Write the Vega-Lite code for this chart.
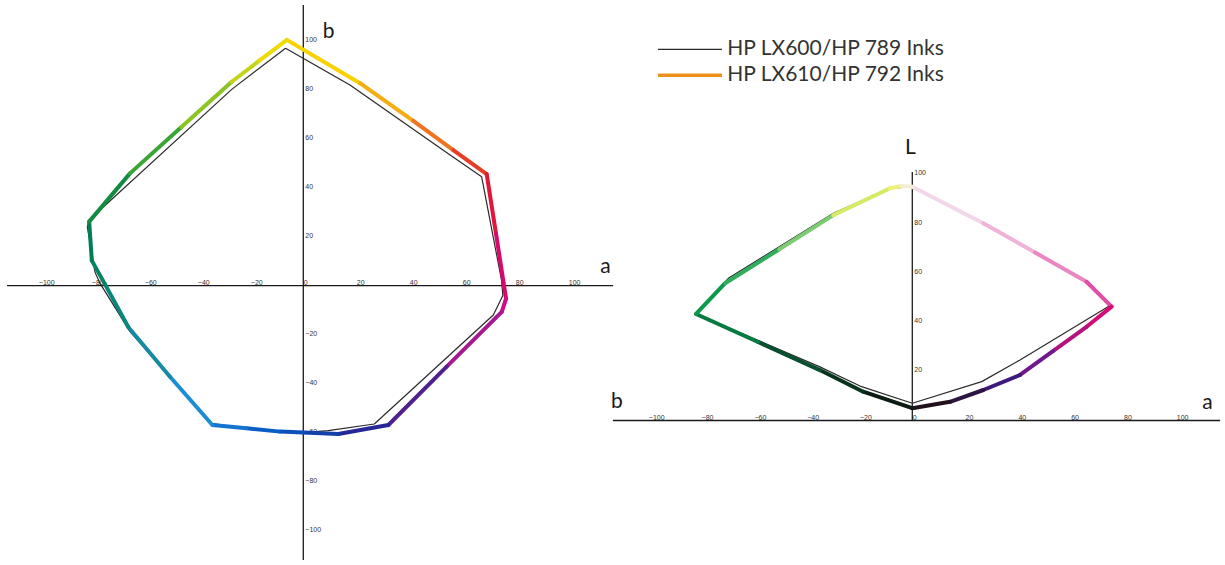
{
  "$schema": "https://vega.github.io/schema/vega-lite/v6.json",
  "width": 1225,
  "height": 565,
  "autosize": {"type": "fit", "contains": "padding"},
  "padding": 0,
  "background": "white",
  "config": {"view": {"stroke": null}},
  "datasets": {
    "ab": [
      {"series": "HP LX610/HP 792 Inks", "i": 0, "a": -6.2, "b": 100.3},
      {"series": "HP LX610/HP 792 Inks", "i": 1, "a": 21.4, "b": 82.6},
      {"series": "HP LX610/HP 792 Inks", "i": 2, "a": 41.5, "b": 67.2},
      {"series": "HP LX610/HP 792 Inks", "i": 3, "a": 56.6, "b": 55.3},
      {"series": "HP LX610/HP 792 Inks", "i": 4, "a": 69.2, "b": 45.5},
      {"series": "HP LX610/HP 792 Inks", "i": 5, "a": 72.7, "b": 21.3},
      {"series": "HP LX610/HP 792 Inks", "i": 6, "a": 76.5, "b": -5.3},
      {"series": "HP LX610/HP 792 Inks", "i": 7, "a": 74.9, "b": -10.7},
      {"series": "HP LX610/HP 792 Inks", "i": 8, "a": 54.1, "b": -33.1},
      {"series": "HP LX610/HP 792 Inks", "i": 9, "a": 32.1, "b": -56.9},
      {"series": "HP LX610/HP 792 Inks", "i": 10, "a": 13.2, "b": -60.6},
      {"series": "HP LX610/HP 792 Inks", "i": 11, "a": 0, "b": -60},
      {"series": "HP LX610/HP 792 Inks", "i": 12, "a": -8.8, "b": -59.6},
      {"series": "HP LX610/HP 792 Inks", "i": 13, "a": -21.4, "b": -58.2},
      {"series": "HP LX610/HP 792 Inks", "i": 14, "a": -34.3, "b": -56.9},
      {"series": "HP LX610/HP 792 Inks", "i": 15, "a": -50.3, "b": -37.2},
      {"series": "HP LX610/HP 792 Inks", "i": 16, "a": -66, "b": -17},
      {"series": "HP LX610/HP 792 Inks", "i": 17, "a": -74.8, "b": 0.5},
      {"series": "HP LX610/HP 792 Inks", "i": 18, "a": -79.8, "b": 10.2},
      {"series": "HP LX610/HP 792 Inks", "i": 19, "a": -80.8, "b": 26.1},
      {"series": "HP LX610/HP 792 Inks", "i": 20, "a": -65.4, "b": 45.8},
      {"series": "HP LX610/HP 792 Inks", "i": 21, "a": -46, "b": 64.7},
      {"series": "HP LX610/HP 792 Inks", "i": 22, "a": -27, "b": 83.2},
      {"series": "HP LX610/HP 792 Inks", "i": 23, "a": -16.6, "b": 91.8},
      {"series": "HP LX610/HP 792 Inks", "i": 24, "a": -6.2, "b": 100.3},
      {"series": "HP LX600/HP 789 Inks", "i": 0, "a": -6.7, "b": 96.9},
      {"series": "HP LX600/HP 789 Inks", "i": 1, "a": 17.6, "b": 81.9},
      {"series": "HP LX600/HP 789 Inks", "i": 2, "a": 55.4, "b": 53.3},
      {"series": "HP LX600/HP 789 Inks", "i": 3, "a": 67.3, "b": 44.4},
      {"series": "HP LX600/HP 789 Inks", "i": 4, "a": 74.8, "b": 2.2},
      {"series": "HP LX600/HP 789 Inks", "i": 5, "a": 75.3, "b": -4},
      {"series": "HP LX600/HP 789 Inks", "i": 6, "a": 71.7, "b": -12},
      {"series": "HP LX600/HP 789 Inks", "i": 7, "a": 26.8, "b": -56.5},
      {"series": "HP LX600/HP 789 Inks", "i": 8, "a": 9.4, "b": -59.2},
      {"series": "HP LX600/HP 789 Inks", "i": 9, "a": 0, "b": -60},
      {"series": "HP LX600/HP 789 Inks", "i": 10, "a": -20, "b": -58.7},
      {"series": "HP LX600/HP 789 Inks", "i": 11, "a": -34.6, "b": -56.2},
      {"series": "HP LX600/HP 789 Inks", "i": 12, "a": -65.4, "b": -18.8},
      {"series": "HP LX600/HP 789 Inks", "i": 13, "a": -76.7, "b": 0.9},
      {"series": "HP LX600/HP 789 Inks", "i": 14, "a": -78.6, "b": 5.5},
      {"series": "HP LX600/HP 789 Inks", "i": 15, "a": -81.5, "b": 24},
      {"series": "HP LX600/HP 789 Inks", "i": 16, "a": -80.8, "b": 26.8},
      {"series": "HP LX600/HP 789 Inks", "i": 17, "a": -27, "b": 80.1},
      {"series": "HP LX600/HP 789 Inks", "i": 18, "a": -6.7, "b": 96.9}
    ],
    "lab": [
      {"series": "HP LX610/HP 792 Inks", "i": 0, "ab": 0, "L": 95},
      {"series": "HP LX610/HP 792 Inks", "i": 1, "ab": 26.9, "L": 80.2},
      {"series": "HP LX610/HP 792 Inks", "i": 2, "ab": 46.5, "L": 68.3},
      {"series": "HP LX610/HP 792 Inks", "i": 3, "ab": 66, "L": 56.4},
      {"series": "HP LX610/HP 792 Inks", "i": 4, "ab": 75.5, "L": 46.3},
      {"series": "HP LX610/HP 792 Inks", "i": 5, "ab": 66, "L": 38.1},
      {"series": "HP LX610/HP 792 Inks", "i": 6, "ab": 53.4, "L": 28.3},
      {"series": "HP LX610/HP 792 Inks", "i": 7, "ab": 40.8, "L": 18.5},
      {"series": "HP LX610/HP 792 Inks", "i": 8, "ab": 26.9, "L": 12.4},
      {"series": "HP LX610/HP 792 Inks", "i": 9, "ab": 14.3, "L": 7.6},
      {"series": "HP LX610/HP 792 Inks", "i": 10, "ab": 0, "L": 5},
      {"series": "HP LX610/HP 792 Inks", "i": 11, "ab": -18.6, "L": 11.7},
      {"series": "HP LX610/HP 792 Inks", "i": 12, "ab": -35, "L": 20.5},
      {"series": "HP LX610/HP 792 Inks", "i": 13, "ab": -58.4, "L": 31.9},
      {"series": "HP LX610/HP 792 Inks", "i": 14, "ab": -81.9, "L": 43.3},
      {"series": "HP LX610/HP 792 Inks", "i": 15, "ab": -70.9, "L": 55.8},
      {"series": "HP LX610/HP 792 Inks", "i": 16, "ab": -50.4, "L": 69.6},
      {"series": "HP LX610/HP 792 Inks", "i": 17, "ab": -29.9, "L": 83.5},
      {"series": "HP LX610/HP 792 Inks", "i": 18, "ab": -8.4, "L": 94.4},
      {"series": "HP LX610/HP 792 Inks", "i": 19, "ab": -4, "L": 95.3},
      {"series": "HP LX610/HP 792 Inks", "i": 20, "ab": 0, "L": 95},
      {"series": "HP LX600/HP 789 Inks", "i": 0, "ab": 0, "L": 95},
      {"series": "HP LX600/HP 789 Inks", "i": 1, "ab": 26.9, "L": 80.2},
      {"series": "HP LX600/HP 789 Inks", "i": 2, "ab": 66, "L": 56.4},
      {"series": "HP LX600/HP 789 Inks", "i": 3, "ab": 74.6, "L": 46.5},
      {"series": "HP LX600/HP 789 Inks", "i": 4, "ab": 40.8, "L": 24.6},
      {"series": "HP LX600/HP 789 Inks", "i": 5, "ab": 26.3, "L": 15.8},
      {"series": "HP LX600/HP 789 Inks", "i": 6, "ab": 0, "L": 7},
      {"series": "HP LX600/HP 789 Inks", "i": 7, "ab": -19.8, "L": 14},
      {"series": "HP LX600/HP 789 Inks", "i": 8, "ab": -35, "L": 21.8},
      {"series": "HP LX600/HP 789 Inks", "i": 9, "ab": -81.9, "L": 43.3},
      {"series": "HP LX600/HP 789 Inks", "i": 10, "ab": -69.7, "L": 57.8},
      {"series": "HP LX600/HP 789 Inks", "i": 11, "ab": -29.9, "L": 84.2},
      {"series": "HP LX600/HP 789 Inks", "i": 12, "ab": -8.4, "L": 94.4},
      {"series": "HP LX600/HP 789 Inks", "i": 13, "ab": 0, "L": 95}
    ]
  },
  "layer": [
    {
      "data": {"values": [{}]},
      "mark": {"type": "rule", "color": "#1a1a1a", "strokeWidth": 1.3},
      "encoding": {
        "x": {"datum": -111.8, "type": "quantitative", "scale": {"domain": [-114.45, 347.8], "nice": false, "zero": false}, "axis": null},
        "x2": {"datum": 116.9},
        "y": {"datum": 0, "type": "quantitative", "scale": {"domain": [-114.04, 116.57], "nice": false, "zero": false}, "axis": null}
      }
    },
    {
      "data": {"values": [{}]},
      "mark": {"type": "rule", "color": "#1a1a1a", "strokeWidth": 1.3},
      "encoding": {
        "x": {"datum": 0, "type": "quantitative", "scale": {"domain": [-114.45, 347.8], "nice": false, "zero": false}, "axis": null},
        "y": {"datum": -112, "type": "quantitative", "scale": {"domain": [-114.04, 116.57], "nice": false, "zero": false}, "axis": null},
        "y2": {"datum": 114.5}
      }
    },
    {
      "data": {"name": "ab"},
      "transform": [{"filter": {"field": "series", "equal": "HP LX600/HP 789 Inks"}}],
      "mark": {"type": "line", "strokeJoin": "round"},
      "encoding": {
        "x": {"field": "a", "type": "quantitative", "scale": {"domain": [-114.45, 347.8], "nice": false, "zero": false},
          "axis": {"orient": "top", "offset": -285.6, "values": [-100, -80, -60, -40, -20, 0, 20, 40, 60, 80, 100], "domain": false, "ticks": false, "grid": false, "labelAlign": "left", "labelBaseline": "alphabetic", "labelPadding": 1, "labelFont": "Liberation Sans", "labelFontSize": 7, "labelColor": "#333333", "labelOverlap": false, "labelFlush": false, "labelBound": false, "title": "a", "titleX": 605, "titleY": -13, "titleAlign": "center", "titleBaseline": "alphabetic", "titleAngle": 0, "titleFont": "Lato", "titleFontSize": 21, "titleFontWeight": "normal", "titleColor": "#1a1a1a"}},
        "y": {"field": "b", "type": "quantitative", "scale": {"domain": [-114.04, 116.57], "nice": false, "zero": false},
          "axis": {"orient": "right", "offset": -921.7, "values": [-100, -80, -60, -40, -20, 20, 40, 60, 80, 100], "domain": false, "ticks": false, "grid": false, "labelAlign": "left", "labelBaseline": "middle", "labelOffset": -1.5, "labelPadding": 1.5, "labelFont": "Liberation Sans", "labelFontSize": 7, "labelColor": "#333333", "labelOverlap": false, "labelFlush": false, "labelBound": false, "title": "b", "titleX": 24.7, "titleY": 37.3, "titleAlign": "center", "titleBaseline": "alphabetic", "titleAngle": 0, "titleFont": "Lato", "titleFontSize": 21, "titleFontWeight": "normal", "titleColor": "#1a1a1a"}},
        "order": {"field": "i", "type": "quantitative"},
        "stroke": {"field": "series", "type": "ordinal",
          "scale": {"domain": ["HP LX600/HP 789 Inks", "HP LX610/HP 792 Inks"], "range": ["#2a2a2a", "#f0901c"]},
          "legend": {"title": null, "orient": "none", "legendX": 676.5, "legendY": 36.8, "symbolType": "M-2.78,0H2.78", "symbolSize": 529, "labelFont": "Lato", "labelFontSize": 21, "labelColor": "#333333", "labelOffset": 23.8, "padding": 0, "labelLimit": 400}},
        "strokeWidth": {"field": "series", "type": "ordinal",
          "scale": {"type": "point", "domain": ["HP LX600/HP 789 Inks", "HP LX610/HP 792 Inks"], "range": [1.2, 3.5], "padding": 0},
          "legend": {"title": null, "orient": "none", "legendX": 676.5, "legendY": 36.8, "symbolType": "M-2.78,0H2.78", "symbolSize": 529, "labelFont": "Lato", "labelFontSize": 21, "labelColor": "#333333", "labelOffset": 23.8, "padding": 0, "labelLimit": 400}}
      }
    },
    {
      "data": {"name": "ab"},
      "transform": [
        {"filter": {"field": "series", "equal": "HP LX610/HP 792 Inks"}},
        {"window": [{"op": "lead", "field": "a", "as": "a2"}, {"op": "lead", "field": "b", "as": "b2"}], "sort": [{"field": "i", "order": "ascending"}]},
        {"filter": {"field": "a2", "valid": true}}
      ],
      "mark": {"type": "rule", "strokeWidth": 4, "strokeCap": "round"},
      "encoding": {
        "x": {"field": "a", "type": "quantitative", "scale": {"domain": [-114.45, 347.8], "nice": false, "zero": false}, "axis": null},
        "y": {"field": "b", "type": "quantitative", "scale": {"domain": [-114.04, 116.57], "nice": false, "zero": false}, "axis": null},
        "x2": {"field": "a2"},
        "y2": {"field": "b2"},
        "color": {"field": "i", "type": "ordinal", "legend": null,
          "scale": {"range": ["#fad200", "#f6ad12", "#ef7420", "#e63e26", "#e0173a", "#d9086a", "#d40a88", "#a8188e", "#512090", "#26289a", "#1440aa", "#0c50ba", "#0a5cc6", "#1474d2", "#1c8cd6", "#168aa2", "#0a877a", "#058464", "#027f50", "#128c40", "#3ba636", "#8cc426", "#c4d41a", "#ecdb0a"]}}
      }
    },
    {
      "data": {"values": [{}]},
      "mark": {"type": "rule", "color": "#1a1a1a", "strokeWidth": 1.3},
      "encoding": {
        "x": {"datum": -113.4, "type": "quantitative", "scale": {"domain": [-345.57, 118.45], "nice": false, "zero": false}, "axis": null},
        "x2": {"datum": 116.6},
        "y": {"datum": 0, "type": "quantitative", "scale": {"domain": [-58.74, 170.93], "nice": false, "zero": false}, "axis": null}
      }
    },
    {
      "data": {"values": [{}]},
      "mark": {"type": "rule", "color": "#1a1a1a", "strokeWidth": 1.3},
      "encoding": {
        "x": {"datum": 0, "type": "quantitative", "scale": {"domain": [-345.57, 118.45], "nice": false, "zero": false}, "axis": null},
        "y": {"datum": 0, "type": "quantitative", "scale": {"domain": [-58.74, 170.93], "nice": false, "zero": false}, "axis": null},
        "y2": {"datum": 101}
      }
    },
    {
      "data": {"values": [{}]},
      "mark": {"type": "text", "text": "b", "font": "Lato", "fontSize": 21, "color": "#1a1a1a", "align": "center", "baseline": "alphabetic"},
      "encoding": {
        "x": {"datum": -111.9, "type": "quantitative", "scale": {"domain": [-345.57, 118.45], "nice": false, "zero": false}, "axis": null},
        "y": {"datum": 5, "type": "quantitative", "scale": {"domain": [-58.74, 170.93], "nice": false, "zero": false}, "axis": null}
      }
    },
    {
      "data": {"name": "lab"},
      "transform": [{"filter": {"field": "series", "equal": "HP LX600/HP 789 Inks"}}],
      "mark": {"type": "line", "stroke": "#2a2a2a", "strokeWidth": 1.2, "strokeJoin": "round"},
      "encoding": {
        "x": {"field": "ab", "type": "quantitative", "scale": {"domain": [-345.57, 118.45], "nice": false, "zero": false},
          "axis": {"orient": "top", "offset": -420.5, "values": [-100, -80, -60, -40, -20, 0, 20, 40, 60, 80, 100], "domain": false, "ticks": false, "grid": false, "labelAlign": "left", "labelBaseline": "alphabetic", "labelPadding": 1, "labelFont": "Liberation Sans", "labelFontSize": 7, "labelColor": "#333333", "labelOverlap": false, "labelFlush": false, "labelBound": false, "title": "a", "titleX": 1207, "titleY": -12.5, "titleAlign": "center", "titleBaseline": "alphabetic", "titleAngle": 0, "titleFont": "Lato", "titleFontSize": 21, "titleFontWeight": "normal", "titleColor": "#1a1a1a"}},
        "y": {"field": "L", "type": "quantitative", "scale": {"domain": [-58.74, 170.93], "nice": false, "zero": false},
          "axis": {"orient": "right", "offset": -312.7, "values": [20, 40, 60, 80, 100], "domain": false, "ticks": false, "grid": false, "labelAlign": "left", "labelBaseline": "middle", "labelOffset": -1.5, "labelPadding": 1.5, "labelFont": "Liberation Sans", "labelFontSize": 7, "labelColor": "#333333", "labelOverlap": false, "labelFlush": false, "labelBound": false, "title": "L", "titleX": -2.3, "titleY": 153, "titleAlign": "center", "titleBaseline": "alphabetic", "titleAngle": 0, "titleFont": "Lato", "titleFontSize": 21, "titleFontWeight": "normal", "titleColor": "#1a1a1a"}},
        "order": {"field": "i", "type": "quantitative"}
      }
    },
    {
      "data": {"name": "lab"},
      "transform": [
        {"filter": {"field": "series", "equal": "HP LX610/HP 792 Inks"}},
        {"window": [{"op": "lead", "field": "ab", "as": "ab2"}, {"op": "lead", "field": "L", "as": "L2"}], "sort": [{"field": "i", "order": "ascending"}]},
        {"filter": {"field": "ab2", "valid": true}}
      ],
      "mark": {"type": "rule", "strokeWidth": 4, "strokeCap": "round"},
      "encoding": {
        "x": {"field": "ab", "type": "quantitative", "scale": {"domain": [-345.57, 118.45], "nice": false, "zero": false}, "axis": null},
        "y": {"field": "L", "type": "quantitative", "scale": {"domain": [-58.74, 170.93], "nice": false, "zero": false}, "axis": null},
        "x2": {"field": "ab2"},
        "y2": {"field": "L2"},
        "color": {"field": "i", "type": "ordinal", "legend": null,
          "scale": {"range": ["#f3d6e8", "#f0b2d8", "#ea86c2", "#e24ea6", "#d60c76", "#b4127e", "#70188e", "#3e1a7c", "#2e1440", "#22101c", "#0c1c12", "#08341e", "#065030", "#057a40", "#0a9a4a", "#2eae5a", "#7ccc72", "#d6ea66", "#f0f078", "#f2eed4"]}}
      }
    }
  ],
  "resolve": {"scale": {"x": "independent", "y": "independent", "color": "independent"}}
}
